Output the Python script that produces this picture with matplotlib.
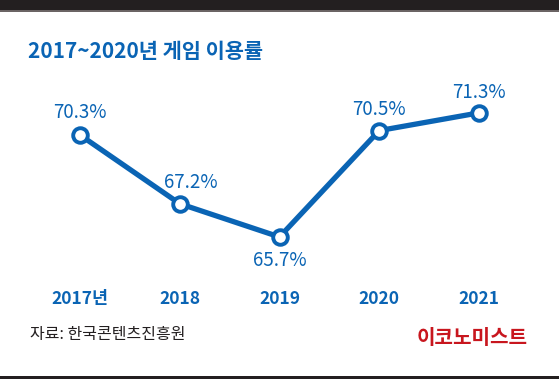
import matplotlib
matplotlib.use("Agg")
import matplotlib.pyplot as plt
from matplotlib.patches import Rectangle

plt.rcParams['font.family'] = ['Noto Sans CJK KR', 'DejaVu Sans']

years = ["2017년", "2018", "2019", "2020", "2021"]
values = [70.3, 67.2, 65.7, 70.5, 71.3]
labels = ["70.3%", "67.2%", "65.7%", "70.5%", "71.3%"]

BLUE = "#0a64b4"
RED = "#c8161e"

W, H = 559, 379
fig = plt.figure(figsize=(W/100, H/100), dpi=100)
fig.patch.set_facecolor("white")

# top bar and bottom line
fig.add_artist(Rectangle((0, 1 - 10/H), 1, 10/H, transform=fig.transFigure, color="#231f20", lw=0))
fig.add_artist(Rectangle((0, 1 - 11.5/H), 1, 1.5/H, transform=fig.transFigure, color="#6b6464", lw=0))
fig.add_artist(Rectangle((0, 0), 1, 3/H, transform=fig.transFigure, color="#231f20", lw=0))

# axes: x 80..479 px for idx 0..4 ; y px 100..260
ax = fig.add_axes([80/W, (H-260)/H, 399/W, 160/H])
ax.set_xlim(0, 4)
ax.set_ylim(64.66, 71.88)
ax.axis("off")
x = list(range(len(values)))
ax.plot(x, values, color=BLUE, lw=3.8, solid_capstyle="round", zorder=2, clip_on=False)
ax.plot(x, values, ls="none", marker="o", ms=10.5, mfc="white", mec=BLUE, mew=2.8, zorder=3, clip_on=False)

# offsets in points (dx, baseline dy)
offsets = [(0, 12), (8, 11), (0, -21), (0, 11), (0, 11)]
for xi, v, lab, (dx, dy) in zip(x, values, labels, offsets):
    ax.annotate(lab, (xi, v), xytext=(dx, dy), textcoords="offset points",
                ha="center", va="baseline",
                color=BLUE, fontsize=13.5, fontweight="medium", zorder=4)

for xi, yr in zip(x, years):
    fig.text((80 + xi*99.75)/W, 1 - 299/H, yr, ha="center", va="center",
             color=BLUE, fontsize=12.5, fontweight="semibold")

fig.text(28/W, 1 - 52/H, "2017~2020년 게임 이용률", ha="left", va="center",
         color=BLUE, fontsize=15, fontweight="bold")
fig.text(30/W, 1 - 335/H, "자료: 한국콘텐츠진흥원", ha="left", va="center",
         color="#231f20", fontsize=11.5)
fig.text(528/W, 1 - 337/H, "이코노미스트", ha="right", va="center",
         color=RED, fontsize=14.5, fontweight="bold")

fig.savefig("out.png", dpi=100)
